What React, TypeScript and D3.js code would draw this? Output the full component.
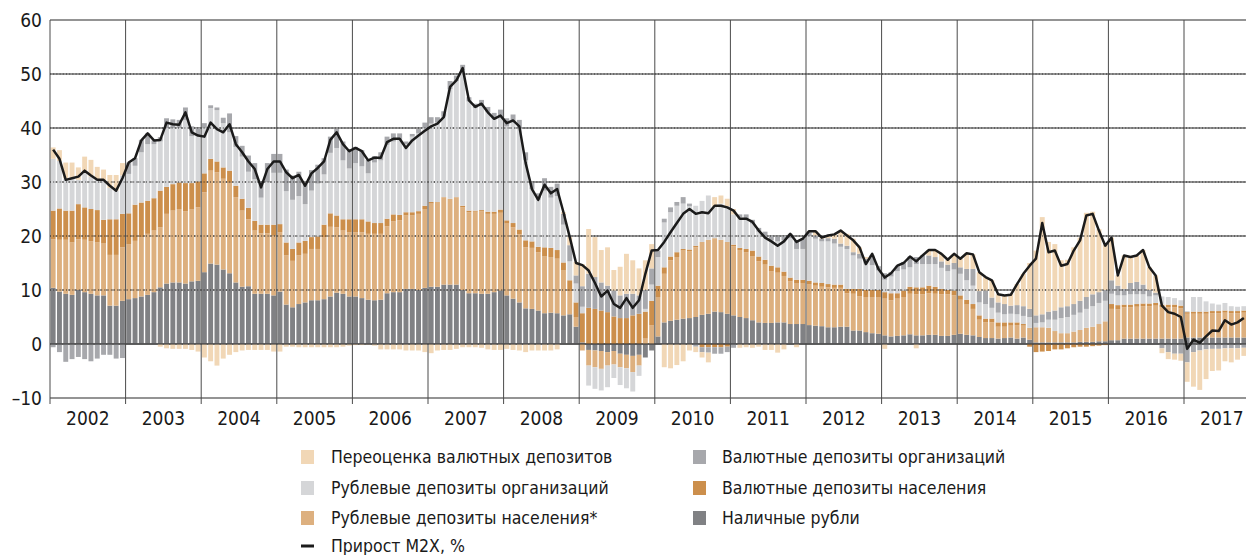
import React, { useEffect, useRef } from "react";
import * as d3 from "d3";

const years = ["2002","2003","2004","2005","2006","2007","2008","2009","2010","2011","2012","2013","2014","2015","2016","2017"];
const yTicks = [60, 50, 40, 30, 20, 10, 0, -10];

// Наличные рубли
const cash = [
  10.4, 9.7, 9.3, 9.1, 10.0, 9.6, 9.3, 9.0, 9.0, 7.1, 7.1, 8.0,
  8.3, 8.5, 8.8, 9.1, 9.6, 10.5, 11.2, 11.4, 11.4, 11.2, 11.6, 11.7,
  13.3, 14.9, 14.7, 13.8, 13.1, 11.4, 10.6, 10.7, 9.3, 9.3, 9.3, 9.0,
  9.7, 7.3, 6.8, 7.4, 7.7, 8.1, 8.1, 8.3, 8.8, 9.5, 9.3, 8.8,
  8.8, 8.5, 8.2, 8.1, 8.2, 9.4, 9.6, 9.6, 10.2, 10.2, 10.0, 10.4,
  10.6, 10.6, 11.0, 11.0, 11.0, 10.0, 9.4, 9.4, 9.3, 9.3, 9.6, 9.9,
  9.0, 8.4, 7.7, 6.6, 6.5, 6.2, 5.7, 5.8, 5.7, 5.3, 5.5, 3.2,
  0.3, -1.1, -1.2, -1.3, -1.5, -1.3, -1.8, -2.0, -2.2, -2.0, -2.5, -1.2,
  1.4, 4.0, 4.3, 4.5, 4.7, 4.8, 5.0, 5.4, 5.6, 6.0, 5.9, 5.6,
  5.3, 5.0, 4.8, 4.4, 4.0, 3.9, 3.9, 4.0, 4.0, 3.7, 3.7, 3.7,
  3.5, 3.4, 3.3, 3.1, 3.1, 3.2, 3.2, 2.5, 2.5, 2.2, 2.0, 1.9,
  1.6, 1.4, 1.5, 1.6, 1.8, 1.6, 1.6, 1.7, 1.7, 1.5, 1.5, 1.7,
  1.9, 1.7, 1.6, 1.3, 1.1, 1.1, 1.0, 1.1, 1.2, 1.0, 1.2, 0.8,
  0.3, 0.3, 0.3, 0.3, 0.3, 0.3, 0.3, 0.4, 0.4, 0.4, 0.5, 0.5,
  0.7, 0.7, 1.0, 1.0, 1.0, 1.0, 1.0, 1.0, 1.0, 1.0, 1.0, 1.0,
  1.2, 1.2, 1.2, 1.2, 1.2, 1.2, 1.2, 1.2, 1.2, 1.2
];

// Рублевые депозиты населения
const rubHH = [
  9.0, 9.6, 10.0, 9.7, 9.4, 9.7, 9.7, 9.8, 9.6, 9.4, 9.4, 9.9,
  10.2, 10.6, 11.0, 11.3, 11.4, 11.1, 12.9, 13.3, 13.6, 13.4, 13.3, 13.6,
  14.8, 17.2, 17.1, 16.8, 16.8, 15.8, 14.1, 12.4, 11.7, 11.2, 11.2, 11.1,
  11.0, 9.1, 8.6, 9.0, 9.0, 9.5, 9.5, 11.5, 12.9, 12.1, 11.7, 11.9,
  11.9, 12.2, 12.2, 12.3, 12.2, 12.4, 13.1, 13.3, 13.6, 13.6, 14.1, 14.6,
  15.4, 15.7, 16.2, 15.9, 16.2, 15.3, 15.0, 15.1, 15.3, 14.8, 14.5, 14.4,
  13.3, 13.2, 12.6, 11.3, 11.3, 10.8, 10.5, 10.3, 10.1, 8.3, 4.3, 1.8,
  -1.2, -2.9, -3.1, -3.3, -2.5, -2.5, -2.5, -2.5, -3.0, -2.0, 1.0, 3.5,
  7.3, 9.0, 11.2, 11.6, 12.6, 12.4, 12.9, 13.5, 13.7, 13.6, 13.4, 13.3,
  12.8, 12.4, 12.2, 11.8, 11.3, 10.8, 9.6, 9.2, 8.6, 7.9, 7.6, 7.6,
  7.6, 7.4, 7.3, 7.4, 7.3, 7.2, 6.2, 6.8, 6.3, 6.5, 6.7, 6.8,
  6.8, 6.7, 6.9, 7.1, 7.5, 7.6, 7.6, 7.7, 7.6, 7.7, 7.7, 7.3,
  6.3, 5.6, 4.9, 3.2, 2.9, 2.9, 2.2, 2.1, 2.2, 2.5, 2.2, 2.2,
  2.8, 2.8, 2.7, 2.1, 1.7, 1.7, 2.0, 2.2, 2.6, 2.8, 3.2, 3.7,
  5.8, 5.7, 5.8, 5.8, 5.9, 6.0, 6.0, 6.1, 5.8, 5.8, 5.8, 5.6,
  4.4, 4.4, 4.4, 4.4, 4.5, 4.5, 4.6, 4.5, 4.5, 4.6
];

// Валютные депозиты населения
const fxHH = [
  5.3, 5.8, 5.4, 5.9, 6.5, 6.0, 6.0, 6.0, 4.4, 6.6, 6.6, 6.2,
  5.7, 6.7, 6.4, 6.1, 6.0, 6.8, 5.0, 4.9, 4.9, 5.2, 4.9, 4.8,
  3.5, 2.2, 2.0, 2.1, 2.2, 2.1, 2.2, 2.1, 1.8, 1.6, 1.6, 2.0,
  1.5, 2.4, 2.2, 2.4, 2.4, 2.2, 2.3, 2.3, 2.5, 2.2, 2.1, 2.4,
  2.4, 2.4, 2.3, 2.0, 2.0, 1.4, 1.3, 1.0, 0.6, 0.6, 0.5, 0.6,
  0.3, 0.0, 0.0, 0.0, 0.0, 0.3, 0.3, 0.2, 0.2, 0.4, 0.4, 0.6,
  0.6, 0.8, 0.9, 1.3, 1.2, 1.0, 1.7, 1.7, 1.6, 1.5, 2.0, 2.7,
  5.4, 6.7, 6.5, 6.2, 5.9, 5.1, 4.8, 4.8, 5.3, 5.6, 5.0, 4.5,
  2.1, 1.2, 0.7, 0.9, 0.3, 0.3, 0.3, -0.6, -0.6, -0.6, -0.6, -0.5,
  0.3, 0.4, 0.6, 1.1, 0.9, 0.9, 1.0, 1.0, 0.8, 0.7, 0.6, 0.6,
  0.6, 0.6, 0.7, 0.6, 0.6, 0.6, 0.8, 0.9, 1.4, 1.3, 1.3, 1.3,
  1.2, 1.3, 1.0, 1.2, 1.3, 1.3, 1.3, 1.4, 1.3, 1.0, 0.8, 0.9,
  0.8, 0.9, 0.9, 0.8, 0.7, 0.7, 0.8, 0.8, 0.6, 0.5, 0.3, -0.5,
  -1.5, -1.4, -1.3, -1.0, -1.0, -0.8, -0.6, -0.5, -0.5, -0.4, -0.3, -0.2,
  0.9, 0.8, 0.5, 0.5, 0.5, 0.5, 0.5, 0.5, 0.5, 0.5, 0.5, 0.5,
  0.3, 0.4, 0.4, 0.4, 0.4, 0.4, 0.4, 0.4, 0.4, 0.4
];

// Рублевые депозиты организаций
const rubOrg = [
  9.6, 8.8, 6.0, 6.0, 4.5, 6.7, 6.0, 5.6, 7.2, 5.8, 5.3, 7.1,
  7.3, 7.2, 9.3, 10.5, 10.0, 9.1, 10.9, 10.4, 10.1, 11.7, 8.7, 8.4,
  8.5, 9.4, 9.5, 8.2, 7.1, 7.2, 7.8, 6.7, 7.7, 5.0, 7.9, 9.6,
  9.5, 9.5, 9.1, 8.6, 6.8, 8.6, 9.8, 9.3, 11.2, 12.5, 10.9, 9.4,
  10.4, 9.8, 8.9, 11.2, 11.6, 13.7, 13.5, 13.9, 12.6, 14.0, 14.4, 14.4,
  14.5, 14.7, 14.9, 20.3, 21.5, 25.1, 20.2, 19.0, 19.4, 18.4, 17.1, 17.3,
  17.4, 18.6, 18.8, 14.8, 9.7, 8.7, 10.5, 9.3, 10.0, 7.0, 3.5, 3.5,
  1.2, -3.7, -4.0, -4.0, -4.0, -2.5, -3.3, -3.7, -3.6, -1.9, 0.5, 3.0,
  5.3, 8.3, 8.2, 8.6, 8.4, 8.0, 7.4, 7.6, 8.2, 5.9, 6.7, 6.6,
  5.6, 5.7, 5.6, 5.0, 4.6, 4.3, 4.7, 4.8, 5.8, 7.3, 5.7, 5.7,
  8.3, 8.1, 7.7, 7.9, 7.6, 7.0, 7.4, 6.2, 5.6, 4.9, 4.6, 3.6,
  2.3, 3.1, 4.1, 3.9, 3.6, 4.3, 4.3, 4.0, 4.2, 3.9, 3.5, 3.9,
  4.0, 3.6, 3.4, 2.4, 2.7, 2.0, 1.8, 1.5, 1.6, 1.5, 1.5, 2.0,
  0.8, 0.9, 1.5, 2.1, 2.8, 3.0, 3.1, 3.2, 3.5, 3.8, 3.9, 3.8,
  1.9, 1.8, 1.7, 1.9, 1.8, 1.7, 1.3, 1.4, 1.5, 1.4, 1.2, 1.0,
  0.2, 2.7, 2.7, 1.9, 1.4, 1.2, 1.4, 0.9, 0.8, 0.8
];

// Валютные депозиты организаций
const fxOrg = [
  -0.6, -1.5, -3.3, -2.8, -2.4, -2.8, -3.2, -2.7, -2.0, -2.0, -2.7, -2.6,
  2.1, 1.4, 2.3, 2.0, 0.7, 0.8, 1.8, 1.6, 1.5, 2.3, 1.8, 1.5,
  0.8, 0.5, 0.5, 1.0, 3.5, 2.0, 2.0, 3.0, 3.0, 3.0, 3.5, 3.5,
  3.5, 4.0, 4.5, 4.5, 4.0, 3.8, 3.5, 3.0, 3.0, 3.5, 3.5, 3.5,
  3.0, 3.0, 2.5, 1.2, 1.5, 1.5, 1.5, 1.2, 0.5, 0.5, 0.8, 1.0,
  1.2, 1.0, 1.0, 1.5, 1.0, 1.0, 0.8, 0.8, 1.0, 1.0, 1.2, 1.2,
  1.5, 1.5, 1.5, 1.5, 1.2, 1.2, 2.3, 2.0, 2.3, 2.0, 3.0, 1.5,
  3.8, 6.3, 5.9, 5.2, 4.9, 4.8, 4.2, 4.5, 4.0, 3.4, 3.5, 3.0,
  1.2, 0.7, 0.9, 0.7, 1.2, 0.5, -0.5, -0.9, -1.0, -1.2, -1.2, -1.0,
  -0.7, 0.5, 0.8, 0.7, 0.7, 0.9, 0.9, 0.9, 0.8, 0.8, 1.5, 1.9,
  0.7, 0.6, 0.5, 0.6, 0.9, 0.6, 0.6, 0.6, 0.9, 0.9, 1.8, 0.8,
  1.2, 0.8, 1.0, 1.4, 2.0, 1.3, 1.6, 1.6, 1.3, 1.2, 1.2, 1.2,
  1.2, 2.1, 3.1, 2.1, 2.5, 1.9, 1.9, 1.9, 1.5, 1.7, 1.8, 1.5,
  1.4, 1.5, 1.5, 1.7, 2.0, 2.0, 2.0, 2.2, 2.2, 2.2, 2.0, 2.0,
  2.5, 1.8, 1.2, 2.1, 2.3, 1.8, 1.2, 0.5, -0.8, -1.5, -1.8, -1.8,
  -3.4, -1.5, -1.2, -1.0, -0.9, -0.9, -0.8, -0.8, -0.8, -0.7
];

// Переоценка валютных депозитов
const reval = [
  2.1, 2.0, 2.9, 2.9, 2.3, 2.7, 3.1, 2.4, 2.1, 2.4, 2.9, 2.3,
  0, 0, 0, 0, 0, -0.5, -0.8, -0.9, -0.9, -0.9, -1.1, -1.4,
  -2.5, -3.2, -4.0, -2.7, -2.0, -1.5, -1.2, -1.1, -1.1, -1.1, -1.1, -1.4,
  -1.4, -0.5, -0.5, -0.6, -0.6, -0.6, -0.6, -0.6, -0.6, -0.6, -0.5, -0.3,
  -0.2, -0.2, -0.1, -0.3, -1.0, -1.0, -1.0, -1.0, -1.2, -1.2, -1.2, -1.5,
  -1.7, -1.2, -1.1, -1.1, -0.9, -0.6, -0.6, -0.6, -0.7, -1.0, -1.1, -1.1,
  -0.9, -1.1, -1.2, -1.5, -1.2, -1.2, -1.2, -1.2, -1.0, 0.3, 1.5, 2.5,
  4.1, 8.3, 7.4, 6.0, 7.1, 3.8, 5.3, 7.4, 6.2, 5.0, 5.5, 4.5,
  0, -4.3, -4.5, -3.9, -3.2, -1.2, -1.0, -1.0, -1.8, 1.7, 1.5, 1.4,
  1.0, -0.7, -0.6, -0.7, -0.5, -1.1, -1.1, -1.6, -1.0, 0, -0.6, 0,
  0.2, 0.8, 0.2, 0.5, 0.8, 2.4, 2.2, 2.5, 1.2, 0.3, 0, 0,
  -0.9, 0, 0, 0, 0, -0.8, 0, 1.0, 1.3, 1.4, 0.9, 1.7,
  1.6, 2.9, 2.7, 3.5, 2.5, 3.2, 1.5, 1.6, 2.2, 3.9, 6.0, 8.5,
  12.0, 18.0, 12.9, 12.3, 8.7, 8.6, 10.5, 11.7, 15.6, 15.3, 11.7, 8.4,
  7.9, 1.9, 6.2, 4.8, 4.9, 6.4, 4.2, 3.2, -0.9, -1.3, -1.1, -1.3,
  -3.6, -6.4, -7.3, -5.5, -4.1, -4.0, -2.4, -2.6, -2.1, -1.5
];

// Прирост M2X, %
const m2x = [
  36.0, 34.3, 30.4, 30.7, 31.0, 32.1, 31.2, 30.4, 30.4, 29.3, 28.4, 30.7,
  33.6, 34.4, 37.7, 39.0, 37.7, 37.8, 41.0, 40.7, 40.6, 42.9, 39.2, 38.6,
  38.4, 41.0, 39.8, 39.2, 40.7, 37.0, 35.5, 33.8, 32.4, 29.0, 32.4, 33.8,
  33.8, 31.8, 30.7, 31.3, 29.3, 31.6, 32.6, 33.8, 37.8, 39.2, 37.0, 35.7,
  36.3, 35.7, 34.0, 34.5, 34.5, 37.4, 38.0, 38.0, 36.3, 37.7, 38.6, 39.5,
  40.3, 40.8, 42.0, 47.6, 48.8, 51.1, 45.1, 43.9, 44.5, 42.9, 41.7, 42.3,
  40.9, 41.4, 40.3, 33.5, 28.7, 26.7, 29.5, 27.9, 28.7, 24.4, 19.8, 15.0,
  14.6, 13.6, 11.3, 8.8, 9.9, 7.4, 6.7, 8.5, 6.7, 8.1, 13.0, 17.3,
  17.4, 18.9, 20.7, 22.4, 24.1, 25.0, 24.1, 24.4, 24.2, 25.6, 25.6, 25.3,
  24.7, 23.2, 23.2, 22.6, 21.0, 19.7, 19.0, 18.2, 19.0, 20.4, 18.9, 19.5,
  20.9, 20.9, 19.7, 20.1, 20.3, 21.0, 20.1, 19.2, 17.9, 14.8, 16.7, 13.9,
  12.3, 13.1, 14.5, 15.0, 16.2, 15.3, 16.4, 17.4, 17.4, 16.7, 15.6, 16.7,
  15.8, 16.8, 16.6, 13.3, 12.4, 11.8, 9.2, 9.0, 9.1, 11.1, 13.0, 14.5,
  15.8, 22.4, 17.0, 17.3, 14.5, 14.8, 17.3, 19.2, 23.8, 24.1, 21.0, 18.2,
  19.7, 12.7, 16.4, 16.1, 16.4, 17.4, 14.2, 12.7, 7.1, 5.9, 5.6, 5.0,
  -0.9, 0.8, 0.2, 1.4, 2.5, 2.4, 4.4, 3.6, 4.0, 4.8
];

const seriesKeys = ["cash", "rubHH", "fxHH", "rubOrg", "fxOrg", "reval"];
const seriesData: Record<string, number[]> = { cash, rubHH, fxHH, rubOrg, fxOrg, reval };
const seriesColors: Record<string, string> = {
  cash: "#808184",
  rubHH: "#ddb07f",
  fxHH: "#cc8f4c",
  rubOrg: "#d5d6d8",
  fxOrg: "#a7a8ac",
  reval: "#f1d7b6",
};
const legendLabels: Record<string, string> = {
  reval: "Переоценка валютных депозитов",
  rubOrg: "Рублевые депозиты организаций",
  rubHH: "Рублевые депозиты населения*",
  fxOrg: "Валютные депозиты организаций",
  fxHH: "Валютные депозиты населения",
  cash: "Наличные рубли",
};
const legendCol1 = ["reval", "rubOrg", "rubHH"];
const legendCol2 = ["fxOrg", "fxHH", "cash"];
const lineLabel = "Прирост M2X, %";

const FONT = "'Liberation Sans Narrow', 'DejaVu Sans Condensed', 'Roboto Condensed', Arial, sans-serif";

export default function App() {
  const ref = useRef<SVGSVGElement>(null);

  useEffect(() => {
    const svg = d3.select(ref.current);
    svg.selectAll("*").remove();
    const n = m2x.length;
    const left = 50, right = 50 + n * 6.3;
    const x = d3.scaleBand<number>().domain(d3.range(n)).range([left, right]).paddingInner(0.22).paddingOuter(0.11);
    const y = d3.scaleLinear().domain([-10, 60]).range([398, 20]);
    const cx = (i: number) => (x(i) as number) + x.bandwidth() / 2;
    const plotRight = 1246;

    const rows = d3.range(n).map((i) => {
      const r: any = { i };
      seriesKeys.forEach((k) => (r[k] = seriesData[k][i]));
      return r;
    });
    const stack = d3.stack<any>().keys(seriesKeys).offset(d3.stackOffsetDiverging);
    const stacked = stack(rows);

    // solid grid lines (behind bars)
    const g0 = svg.append("g");
    yTicks.forEach((t) => {
      g0.append("line")
        .attr("x1", left).attr("x2", plotRight)
        .attr("y1", y(t)).attr("y2", y(t))
        .attr("stroke", "#2a2a2a").attr("stroke-width", 1.2);
    });

    // bars
    const gb = svg.append("g");
    stacked.forEach((s) => {
      gb.append("g")
        .attr("fill", seriesColors[s.key])
        .selectAll("rect")
        .data(s)
        .join("rect")
        .attr("x", (d: any) => x(d.data.i) as number)
        .attr("width", x.bandwidth())
        .attr("y", (d: any) => y(Math.max(d[0], d[1])))
        .attr("height", (d: any) => Math.abs(y(d[0]) - y(d[1])));
    });

    // dotted grid over bars
    const gd = svg.append("g");
    [10, 20, 30, 40, 50].forEach((t) => {
      gd.append("line")
        .attr("x1", left).attr("x2", plotRight)
        .attr("y1", y(t)).attr("y2", y(t))
        .attr("stroke", "#2a2a2a").attr("stroke-width", 1)
        .attr("stroke-dasharray", "1,2.2");
    });
    gd.append("line")
      .attr("x1", left).attr("x2", plotRight)
      .attr("y1", y(0)).attr("y2", y(0))
      .attr("stroke", "#2a2a2a").attr("stroke-width", 1.2);

    // year separators
    const gv = svg.append("g");
    d3.range(years.length).forEach((j) => {
      const xx = left + j * 12 * 6.3;
      gv.append("line")
        .attr("x1", xx).attr("x2", xx)
        .attr("y1", y(60)).attr("y2", y(-10) + 6)
        .attr("stroke", "#4a4a4a").attr("stroke-width", 1);
    });

    // M2X line
    const line = d3.line<number>().x((_, i) => cx(i)).y((d) => y(d));
    svg.append("path")
      .datum(m2x)
      .attr("d", line)
      .attr("fill", "none")
      .attr("stroke", "#1b1b1b")
      .attr("stroke-width", 2.5)
      .attr("stroke-linejoin", "round");

    // y labels
    const gy = svg.append("g").attr("font-family", FONT).attr("font-size", 19).attr("fill", "#1a1a1a");
    yTicks.forEach((t) => {
      gy.append("text")
        .attr("x", 42).attr("y", y(t)).attr("dy", "0.36em")
        .attr("text-anchor", "end")
        .text(t < 0 ? "–" + Math.abs(t) : String(t));
    });

    // x labels
    const gx = svg.append("g").attr("font-family", FONT).attr("font-size", 19).attr("fill", "#1a1a1a");
    years.forEach((yr, j) => {
      gx.append("text")
        .attr("x", left + (j + 0.5) * 12 * 6.3)
        .attr("y", 425)
        .attr("text-anchor", "middle")
        .text(yr);
    });

    // legend
    const gl = svg.append("g").attr("font-family", FONT).attr("font-size", 17.5).attr("fill", "#1a1a1a");
    const rowsY = [457, 488, 518, 546];
    const addItem = (key: string, sx: number, tx: number, cy: number) => {
      gl.append("rect").attr("x", sx).attr("y", cy - 7).attr("width", 13).attr("height", 14).attr("fill", seriesColors[key]);
      gl.append("text").attr("x", tx).attr("y", cy).attr("dy", "0.36em").text(legendLabels[key]);
    };
    legendCol1.forEach((k, r) => addItem(k, 301, 331, rowsY[r]));
    legendCol2.forEach((k, r) => addItem(k, 693, 722, rowsY[r]));
    gl.append("line").attr("x1", 301).attr("x2", 314).attr("y1", rowsY[3]).attr("y2", rowsY[3])
      .attr("stroke", "#1b1b1b").attr("stroke-width", 3);
    gl.append("text").attr("x", 331).attr("y", rowsY[3]).attr("dy", "0.36em").text(lineLabel);
  }, []);

  return (
    <div style={{ position: "absolute", left: 0, top: 0 }}>
      <svg ref={ref} width={1246} height={555} style={{ display: "block", background: "#fff" }} />
    </div>
  );
}
